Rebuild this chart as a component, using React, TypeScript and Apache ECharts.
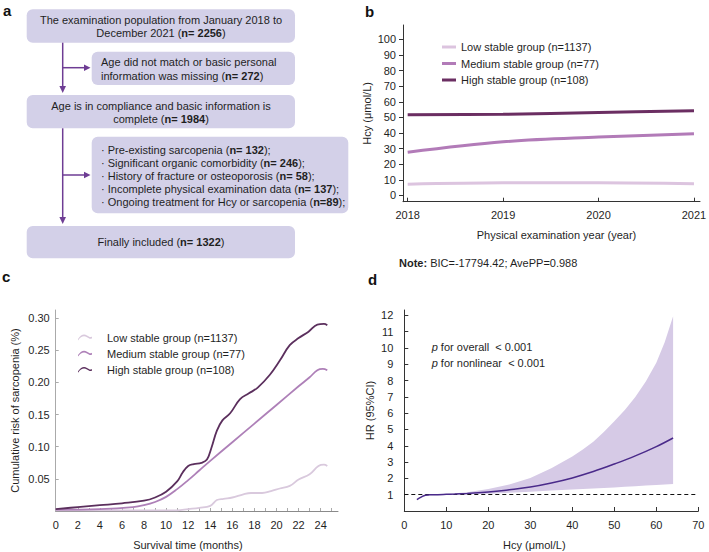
import { useEffect, useRef } from 'react';
import * as echarts from 'echarts';

const FONT = "'Liberation Sans', Arial, Helvetica, sans-serif";
const TXT = '#1f1f1f';

// Panel b: Hcy trajectories
const years = [2018, 2019, 2020, 2021];
const lowB = [7.2, 8.1, 8.2, 7.6];
const medB = [27.7, 34.4, 37.4, 39.6];
const highB = [51.7, 52.0, 53.2, 54.3];
const bYTicks = [0, 10, 20, 30, 40, 50, 60, 70, 80, 90, 100];

const groupNames = ['Low stable group (n=1137)', 'Medium stable group (n=77)', 'High stable group (n=108)'];

// Panel c: cumulative risk
const highCX = [0, 2, 4, 6, 8, 9, 10, 11, 11.5, 12, 12.5, 13.2, 13.7, 14.1, 14.6, 15.1, 15.8, 16.7, 17.5, 18.3, 19.4, 20.3, 21.2, 22.0, 22.9, 23.7, 24.3, 24.6];
const highCY = [0.003, 0.006, 0.009, 0.012, 0.016, 0.021, 0.030, 0.046, 0.060, 0.070, 0.073, 0.075, 0.080, 0.098, 0.125, 0.141, 0.152, 0.174, 0.183, 0.192, 0.212, 0.234, 0.258, 0.269, 0.279, 0.290, 0.291, 0.289];
const medCX = [0, 4, 7, 8, 9, 10, 11, 12, 13, 14, 16, 18, 20, 22, 23, 23.7, 24.2, 24.6];
const medCY = [0.002, 0.003, 0.006, 0.009, 0.014, 0.022, 0.034, 0.048, 0.063, 0.078, 0.107, 0.136, 0.165, 0.194, 0.208, 0.219, 0.221, 0.219];
const lowCX = [0, 11, 12, 13, 14, 14.6, 15.2, 16, 17, 17.7, 18.7, 19.5, 20.3, 21.2, 22, 23, 23.8, 24.3, 24.6];
const lowCY = [0.001, 0.001, 0.003, 0.005, 0.008, 0.017, 0.019, 0.021, 0.026, 0.028, 0.028, 0.031, 0.035, 0.039, 0.049, 0.057, 0.070, 0.072, 0.070];
const cMonthTicks = Array.from({ length: 26 }, (_, i) => i);
const cMonthLabels = [0, 2, 4, 6, 8, 10, 12, 14, 16, 18, 20, 22, 24];
const cYTicks = [0.05, 0.10, 0.15, 0.20, 0.25, 0.30];

// Panel d: restricted cubic spline HR
const hrX = [3, 4, 5, 6, 8, 10, 12, 15, 20, 25, 30, 35, 40, 45, 50, 55, 60, 64];
const hrY = [0.7, 0.85, 0.97, 0.99, 1.0, 1.02, 1.04, 1.08, 1.16, 1.3, 1.47, 1.72, 2.03, 2.42, 2.88, 3.38, 3.95, 4.48];
const ciX = [5, 8, 10, 15, 20, 25, 30, 35, 40, 42.5, 45, 47.5, 50, 52.5, 55, 57.5, 60, 62, 64];
const ciLow = [0.97, 0.97, 0.98, 1.02, 1.06, 1.12, 1.18, 1.25, 1.32, 1.35, 1.38, 1.41, 1.44, 1.48, 1.52, 1.56, 1.6, 1.63, 1.66];
const ciUp = [1.0, 1.03, 1.05, 1.15, 1.35, 1.62, 2.02, 2.62, 3.35, 3.78, 4.25, 4.85, 5.5, 6.2, 7.0, 7.95, 9.1, 10.35, 11.95];
const dXTicks = [0, 10, 20, 30, 40, 50, 60, 70];
const dYTicks = [1, 2, 3, 4, 5, 6, 7, 8, 9, 10, 11, 12];

const colB = ['#dcc4df', '#b27bb8', '#6b2e62'];
const colC = ['#d9c9dd', '#ae80b8', '#5b2f5d'];

const zip = (xs: number[], ys: number[]) => xs.map((x, i) => [x, ys[i]]);

const BOX = '#d3d0e8';
const ARROW = '#6e3d94';

function txt(x: number, y: number, text: string, align: string, extra: any = {}) {
  return {
    type: 'text',
    x,
    y,
    z: 100,
    silent: true,
    style: {
      text,
      fill: TXT,
      fontSize: 11,
      fontFamily: FONT,
      align,
      textAlign: align,
      verticalAlign: 'middle',
      textVerticalAlign: 'middle',
      rich: {
        b: { fontWeight: 'bold', fontSize: 11, fontFamily: FONT, fill: TXT },
        i: { fontStyle: 'italic', fontSize: 11, fontFamily: FONT, fill: TXT },
      },
      ...extra,
    },
  };
}

function box(x: number, y: number, w: number, h: number) {
  return { type: 'rect', silent: true, shape: { x, y, width: w, height: h, r: 6 }, style: { fill: BOX } };
}

function line(x1: number, y1: number, x2: number, y2: number) {
  return { type: 'line', silent: true, shape: { x1, y1, x2, y2 }, style: { stroke: ARROW, lineWidth: 1.5 } };
}

function tri(points: number[][]) {
  return { type: 'polygon', silent: true, shape: { points }, style: { fill: ARROW } };
}

const waveIcon = 'path://M0,5.5 C3,1.2 6,0.2 9,2.2 C11,3.6 12.5,4.2 14,3.2 L14,4.8 C12.5,5.8 11,5.2 9,3.8 C6,1.8 3,2.8 0,7 Z';

const axisText = { fontSize: 11, color: TXT, fontFamily: FONT };

const option: any = {
  animation: false,
  backgroundColor: '#ffffff',
  textStyle: { fontFamily: FONT },
  grid: [
    { left: 403, top: 25, width: 297, height: 176.7, containLabel: false, outerBoundsMode: 'none' },
    { left: 55.7, top: 310, width: 282.3, height: 201, containLabel: false, outerBoundsMode: 'none' },
    { left: 404.3, top: 310, width: 294, height: 201, containLabel: false, outerBoundsMode: 'none' },
  ],
  xAxis: [
    {
      type: 'value', gridIndex: 0, min: 2017.951, max: 2021.063,
      axisLine: { show: true, onZero: false, lineStyle: { color: '#333', width: 1 } },
      axisTick: { show: true, inside: true, length: 4, customValues: years, lineStyle: { color: '#333' } },
      axisLabel: { ...axisText, margin: 8, customValues: years, formatter: (v: number) => String(Math.round(v)) },
      splitLine: { show: false },
      name: 'Physical examination year (year)', nameLocation: 'middle', nameGap: 28, nameMoveOverlap: false,
      nameTextStyle: { ...axisText, padding: [0, 0, 0, 10] },
    },
    {
      type: 'value', gridIndex: 1, min: 0, max: 25.57,
      axisLine: { show: true, onZero: false, lineStyle: { color: '#8a8a8a', width: 1 } },
      axisTick: { show: true, inside: true, length: 3, customValues: cMonthTicks, lineStyle: { color: '#aaa' } },
      axisLabel: { ...axisText, margin: 8, customValues: cMonthLabels, formatter: (v: number) => String(Math.round(v)) },
      splitLine: { show: false },
      name: 'Survival time (months)', nameLocation: 'middle', nameGap: 28.5, nameMoveOverlap: false,
      nameTextStyle: { ...axisText, padding: [0, 18, 0, 0] },
    },
    {
      type: 'value', gridIndex: 2, min: 0, max: 70,
      axisLine: { show: true, onZero: false, lineStyle: { color: '#333', width: 1 } },
      axisTick: { show: true, inside: true, length: 4, customValues: dXTicks, lineStyle: { color: '#333' } },
      axisLabel: { ...axisText, margin: 8, customValues: dXTicks, formatter: (v: number) => String(Math.round(v)) },
      splitLine: { show: false },
      name: 'Hcy (μmol/L)', nameLocation: 'middle', nameGap: 28.5, nameMoveOverlap: false,
      nameTextStyle: { ...axisText, padding: [0, 34, 0, 0] },
    },
  ],
  yAxis: [
    {
      type: 'value', gridIndex: 0, min: -3.97, max: 109.15,
      axisLine: { show: true, onZero: false, lineStyle: { color: '#333', width: 1 } },
      axisTick: { show: true, inside: false, length: 4, customValues: bYTicks, lineStyle: { color: '#333' } },
      axisLabel: { ...axisText, margin: 7, customValues: bYTicks, formatter: (v: number) => String(Math.round(v)) },
      splitLine: { show: false },
      name: 'Hcy (μmol/L)', nameLocation: 'middle', nameGap: 30.5, nameMoveOverlap: false,
      nameTextStyle: { ...axisText },
    },
    {
      type: 'value', gridIndex: 1, min: 0, max: 0.3127,
      axisLine: { show: true, onZero: false, lineStyle: { color: '#aaa', width: 1 } },
      axisTick: { show: true, inside: true, length: 3, customValues: cYTicks, lineStyle: { color: '#aaa' } },
      axisLabel: { ...axisText, margin: 6, customValues: cYTicks, formatter: (v: number) => v.toFixed(2) },
      splitLine: { show: false },
      name: 'Cumulative risk of sarcopenia (%)', nameLocation: 'middle', nameGap: 35, nameMoveOverlap: false,
      nameTextStyle: { ...axisText },
    },
    {
      type: 'value', gridIndex: 2, min: 0, max: 12.33,
      axisLine: { show: true, onZero: false, lineStyle: { color: '#333', width: 1 } },
      axisTick: { show: true, inside: true, length: 4, customValues: dYTicks, lineStyle: { color: '#333' } },
      axisLabel: { ...axisText, margin: 11, customValues: dYTicks, formatter: (v: number) => String(Math.round(v)) },
      splitLine: { show: false },
      name: 'HR (95%CI)', nameLocation: 'middle', nameGap: 28.8, nameMoveOverlap: false,
      nameTextStyle: { ...axisText },
    },
  ],
  legend: [
    {
      orient: 'vertical', left: 437, top: 36.5, itemWidth: 14, itemHeight: 3, itemGap: 5.5,
      icon: 'rect', selectedMode: false,
      textStyle: { ...axisText },
      itemStyle: { borderWidth: 0 },
      data: groupNames.map((n, i) => ({ name: n, itemStyle: { color: colB[i], borderWidth: 0 } })),
    },
    {
      orient: 'vertical', left: 73, top: 327, itemWidth: 14, itemHeight: 7, itemGap: 5.2,
      icon: waveIcon, selectedMode: false,
      textStyle: { ...axisText, padding: [0, 0, 0, 10] },
      itemStyle: { borderWidth: 0 },
      data: groupNames.map((n, i) => ({ name: n, itemStyle: { color: colC[i], borderWidth: 0 } })),
    },
  ],
  series: [
    // panel b
    ...[lowB, medB, highB].map((vals, i) => ({
      type: 'line', name: groupNames[i], xAxisIndex: 0, yAxisIndex: 0,
      data: zip(years, vals), showSymbol: false, symbol: 'none', smooth: 0.35,
      lineStyle: { color: colB[i], width: 3 }, itemStyle: { color: colB[i] }, z: 3 + i,
    })),
    // panel c
    ...[[lowCX, lowCY], [medCX, medCY], [highCX, highCY]].map((d, i) => ({
      type: 'line', name: groupNames[i], xAxisIndex: 1, yAxisIndex: 1,
      data: zip(d[0], d[1]), showSymbol: false, symbol: 'none', smooth: 0.4,
      lineStyle: { color: colC[i], width: 1.8 }, itemStyle: { color: colC[i] }, z: 3 + i,
    })),
    // panel d confidence band
    {
      type: 'custom', name: '95% CI', xAxisIndex: 2, yAxisIndex: 2, z: 1, silent: true,
      data: ciX.map((x, i) => [x, ciLow[i], ciUp[i]]),
      encode: { x: 0, y: [1, 2] },
      renderItem: (params: any, api: any) => {
        if (params.dataIndex !== 0) return null;
        const top = ciX.map((x, i) => api.coord([x, ciUp[i]]));
        const bot = ciX.map((x, i) => api.coord([x, ciLow[i]])).reverse();
        return {
          type: 'polygon',
          shape: { points: top.concat(bot) },
          style: { fill: '#d6cae6', stroke: 'none' },
        };
      },
    },
    {
      type: 'line', name: 'HR', xAxisIndex: 2, yAxisIndex: 2,
      data: zip(hrX, hrY), showSymbol: false, symbol: 'none', smooth: 0.4,
      lineStyle: { color: '#4a2a8a', width: 1.5 }, z: 5,
      markLine: {
        silent: true, symbol: ['none', 'none'], label: { show: false },
        lineStyle: { type: [4, 3], color: '#111', width: 1.2 },
        data: [{ yAxis: 1 }],
      },
    },
  ],
  graphic: [
    // panel labels
    txt(3, 10, 'a', 'left', { fontSize: 15, fontWeight: 'bold', fill: '#111' }),
    txt(365, 11.7, 'b', 'left', { fontSize: 15, fontWeight: 'bold', fill: '#111' }),
    txt(2, 276, 'c', 'left', { fontSize: 15, fontWeight: 'bold', fill: '#111' }),
    txt(368, 279, 'd', 'left', { fontSize: 15, fontWeight: 'bold', fill: '#111' }),
    // flowchart boxes
    box(26.7, 9.3, 268.3, 33.4),
    box(91.7, 51.7, 203.3, 33.3),
    box(26.7, 95, 268.3, 33.3),
    box(91.7, 136.7, 256.6, 76.6),
    box(26.7, 226, 268.3, 32.3),
    // arrows
    line(62.7, 42.7, 62.7, 87),
    tri([[59.4, 86], [66, 86], [62.7, 93]]),
    line(62.7, 67.7, 85, 67.7),
    tri([[84, 64.4], [84, 71], [90.5, 67.7]]),
    line(62.7, 128.3, 62.7, 218),
    tri([[59.4, 217], [66, 217], [62.7, 224]]),
    line(62.7, 175, 85, 175),
    tri([[84, 171.7], [84, 178.3], [90.5, 175]]),
    // flowchart texts
    txt(161, 20, 'The examination population from January 2018 to', 'center'),
    txt(161, 33.3, 'December 2021 ({b|n= 2256})', 'center'),
    txt(101, 62.3, 'Age did not match or basic personal', 'left'),
    txt(101, 75.7, 'information was missing ({b|n= 272})', 'left'),
    txt(161, 106, 'Age is in compliance and basic information is', 'center'),
    txt(161, 119, 'complete ({b|n= 1984})', 'center'),
    txt(101, 150, '· Pre-existing sarcopenia ({b|n= 132});', 'left'),
    txt(101, 163, '· Significant organic comorbidity ({b|n= 246});', 'left'),
    txt(101, 176, '· History of fracture or osteoporosis ({b|n= 58});', 'left'),
    txt(101, 189, '· Incomplete physical examination data ({b|n= 137});', 'left'),
    txt(101, 202.3, '· Ongoing treatment for Hcy or sarcopenia ({b|n=89});', 'left'),
    txt(161, 242.3, 'Finally included ({b|n= 1322})', 'center'),
    // note under panel b
    txt(399, 262.7, '{b|Note:} BIC=-17794.42; AvePP=0.988', 'left'),
    // p values in panel d
    txt(431.7, 346.7, '{i|p} for overall  < 0.001', 'left'),
    txt(431.7, 362.7, '{i|p} for nonlinear  < 0.001', 'left'),
  ],
};

export default function App() {
  const ref = useRef<HTMLDivElement>(null);
  useEffect(() => {
    if (!ref.current) return;
    const chart = echarts.init(ref.current, null, { renderer: 'svg', width: 709, height: 552 });
    chart.setOption(option);
    return () => chart.dispose();
  }, []);
  return (
    <div
      ref={ref}
      style={{ position: 'fixed', left: 0, top: 0, width: 709, height: 552, background: '#fff' }}
    />
  );
}
